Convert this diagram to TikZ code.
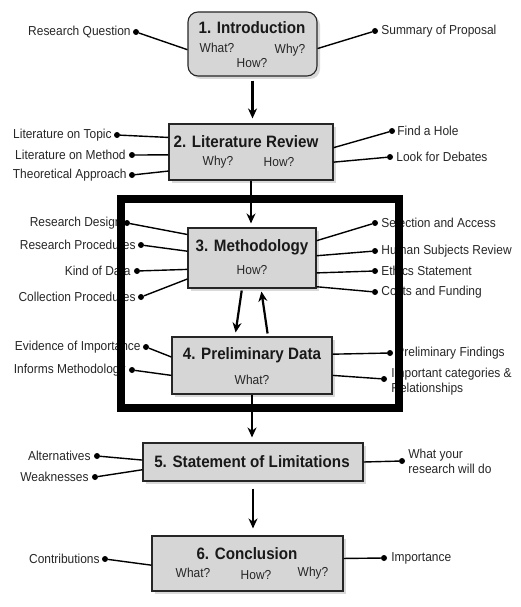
\documentclass[tikz,border=0pt]{standalone}
\usepackage{fontspec}
\setmainfont{Liberation Sans}[FakeStretch=0.92]
\usetikzlibrary{arrows.meta,positioning,shadows}

\tikzset{
  stage/.style={draw=black!85, line width=1.1pt, fill=black!16,
    drop shadow={shadow xshift=3pt, shadow yshift=-3pt, opacity=0.3}},
  stagetitle/.style={font=\fontsize{16.5}{19}\selectfont\bfseries, text=black!90},
  lbl/.style={font=\fontsize{13}{15}\selectfont, text=black!85, inner sep=1pt},
  knob/.style={circle, fill=black, inner sep=0pt, minimum size=6pt},
  spoke/.style={line width=1.4pt},
  flow/.style={-{Stealth[length=10pt,width=9pt]}, line width=2.2pt}
}

\begin{document}
\begin{tikzpicture}[x=1pt,y=-1pt]
\useasboundingbox (0,0) rectangle (520,607);
%Boxes
\node[stage, rounded corners=10pt, minimum width=129pt, minimum height=64pt] (intro) at (252.5,44) {};
\node[stage, minimum width=164pt, minimum height=56pt] (lit) at (251,152) {};
\node[stage, minimum width=128pt, minimum height=60pt] (meth) at (252,258) {};
\node[stage, minimum width=160pt, minimum height=57pt] (prelim) at (252,365.5) {};
\node[stage, minimum width=220pt, minimum height=38pt] (lim) at (253,462) {};
\node[stage, minimum width=191pt, minimum height=55pt] (concl) at (247.5,563.5) {};
%Box texts
\node[stagetitle] (t1) at (252,28) {1. Introduction};
\node[lbl] (what1) at (217,48) {What?};
\node[lbl] (why1) at (290,50) {Why?};
\node[lbl] (how1) at (252,63) {How?};
\node[stagetitle] (t2) at (246,142) {2. Literature Review};
\node[lbl] (why2) at (218,162) {Why?};
\node[lbl] (how2) at (279,162) {How?};
\node[stagetitle] (t3) at (252,247) {3. Methodology};
\node[lbl] (how3) at (252,270) {How?};
\node[stagetitle] (t4) at (252,355) {4. Preliminary Data};
\node[lbl] (what4) at (252,380) {What?};
\node[stagetitle] (t5) at (252,462) {5. Statement of Limitations};
\node[stagetitle] (t6) at (247,554) {6. Conclusion};
\node[lbl] (what6) at (193,573) {What?};
\node[lbl] (how6) at (256,575) {How?};
\node[lbl] (why6) at (313,573) {Why?};
%Side labels
\node[knob] (drq) at (136,32) {};
\node[lbl, left=1pt of drq] (rq) {Research Question};
\node[knob] (dsum) at (375,31) {};
\node[lbl, right=2pt of dsum] (sum) {Summary of Proposal};
\node[knob] (dtop) at (117,135) {};
\node[lbl, left=1pt of dtop] (top) {Literature on Topic};
\node[knob] (dmet) at (132,155) {};
\node[lbl, left=2pt of dmet] (met) {Literature on Method};
\node[knob] (dthe) at (132,175) {};
\node[lbl, left=1pt of dthe] (the) {Theoretical Approach};
\node[knob] (dhol) at (392,131) {};
\node[lbl, right=1pt of dhol] (hol) {Find a Hole};
\node[knob] (ddeb) at (390,157) {};
\node[lbl, right=2pt of ddeb] (deb) {Look for Debates};
\node[knob] (ddes) at (127,223) {};
\node[lbl, left=1pt of ddes] (des) {Research Design};
\node[knob] (dpro) at (141,245) {};
\node[lbl, left=1pt of dpro] (pro) {Research Procedures};
\node[knob] (dkin) at (137,271) {};
\node[lbl, left=2pt of dkin] (kin) {Kind of Data};
\node[knob] (dcol) at (141,297) {};
\node[lbl, left=1pt of dcol] (col) {Collection Procedures};
\node[knob] (dsel) at (375,223) {};
\node[lbl, right=2pt of dsel] (sel) {Selection and Access};
\node[knob] (dhum) at (375,251) {};
\node[lbl, right=2pt of dhum] (hum) {Human Subjects Review};
\node[knob] (deth) at (375,271) {};
\node[lbl, right=2pt of deth] (eth) {Ethics Statement};
\node[knob] (dcos) at (375,292) {};
\node[lbl, right=2pt of dcos] (cos) {Costs and Funding};
\node[knob] (devi) at (146,347) {};
\node[lbl, left=1pt of devi] (evi) {Evidence of Importance};
\node[knob] (dinf) at (132,370) {};
\node[lbl, left=2pt of dinf] (inf) {Informs Methodology};
\node[knob] (dfin) at (390,353) {};
\node[lbl, right=2pt of dfin] (fin) {Preliminary Findings};
\node[knob] (dimp) at (384,379) {};
\node[lbl, right=3pt of dimp, yshift=-3pt, align=left] (imp) {Important categories \&\\Relationships};
\node[knob] (dalt) at (97,456) {};
\node[lbl, left=2pt of dalt] (alt) {Alternatives};
\node[knob] (dwea) at (95,477) {};
\node[lbl, left=2pt of dwea] (wea) {Weaknesses};
\node[knob] (dwil) at (402,461) {};
\node[lbl, right=2pt of dwil, align=left] (wil) {What your\\research will do};
\node[knob] (dcon) at (105,559) {};
\node[lbl, left=1pt of dcon] (con) {Contributions};
\node[knob] (dimpo) at (384,558) {};
\node[lbl, right=3pt of dimpo] (impo) {Importance};
%Spokes
\draw[spoke] (drq) -- (intro.185);
\draw[spoke] (dsum) -- (intro.-4);
\draw[spoke] (dtop) -- (lit.170);
\draw[spoke] (dmet) -- (lit.182);
\draw[spoke] (dthe) -- (lit.193);
\draw[spoke] (dhol) -- (lit.3.5);
\draw[spoke] (ddeb) -- (lit.-7);
\draw[spoke] (ddes) -- (meth.160);
\draw[spoke] (dpro) -- (meth.174);
\draw[spoke] (dkin) -- (meth.190);
\draw[spoke] (dcol) -- (meth.198);
\draw[spoke] (dsel) -- (meth.15);
\draw[spoke] (dhum) -- (meth.2);
\draw[spoke] (deth) -- (meth.-13);
\draw[spoke] (dcos) -- (meth.-24);
\draw[spoke] (devi) -- (prelim.174);
\draw[spoke] (dinf) -- (prelim.187.5);
\draw[spoke] (dfin) -- (prelim.8);
\draw[spoke] (dimp) -- (prelim.-7);
\draw[spoke] (dalt) -- (lim.179);
\draw[spoke] (dwea) -- (lim.184);
\draw[spoke] (dwil) -- (lim.0);
\draw[spoke] (dcon) -- (concl.181);
\draw[spoke] (dimpo) -- (concl.3);
%Frame round 3 and 4
\draw[line width=8pt] (121,199) rectangle (399,408);
%Drawing arrows
\draw[flow, shorten <=4pt, shorten >=5pt] (intro.south) -- (intro.south |- lit.north);
\draw[flow, shorten >=4pt] (lit.south) -- (lit.south |- meth.north);
\draw[flow, shorten <=2pt, shorten >=4pt] ([xshift=-10pt]meth.south) -- ([xshift=-17pt]prelim.north);
\draw[flow, shorten <=3pt, shorten >=3pt] ([xshift=16pt]prelim.north) -- ([xshift=9pt]meth.south);
\draw[flow, shorten >=5pt] (prelim.south) -- (prelim.south |- lim.north);
\draw[flow, shorten <=7pt, shorten >=7pt] (lim.south) -- (lim.south |- concl.north);
\end{tikzpicture}
\end{document}
